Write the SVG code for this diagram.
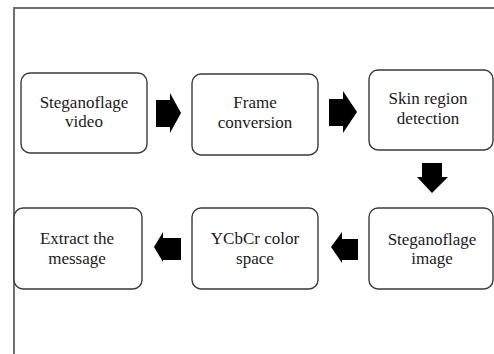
<svg xmlns="http://www.w3.org/2000/svg" width="494" height="354" viewBox="0 0 494 354">
<style>
.box{fill:#fff;stroke:#3a3a3a;stroke-width:1.4}
.t{font-family:"Liberation Serif","Times New Roman",serif;font-size:17px;fill:#1a1a1a;text-anchor:middle}
.arr{fill:#000}
.frame{fill:none;stroke:#707070;stroke-width:2}
</style>
<rect width="494" height="354" fill="#fff"/>
<path class="frame" d="M14,354 V8 H494"/>
<g id="n1"><rect class="box" x="21" y="73" width="126" height="80" rx="9"/><text class="t" x="84" y="108">Steganoflage</text><text class="t" x="84" y="127">video</text></g>
<g id="n2"><rect class="box" x="192" y="74" width="126" height="81" rx="9"/><text class="t" x="255" y="108">Frame</text><text class="t" x="255" y="128">conversion</text></g>
<g id="n3"><rect class="box" x="369" y="70" width="124" height="80" rx="9"/><text class="t" x="428" y="104">Skin region</text><text class="t" x="428" y="124">detection</text></g>
<g id="n4"><rect class="box" x="14" y="208" width="128" height="81" rx="9"/><text class="t" x="77" y="244">Extract the</text><text class="t" x="77" y="264">message</text></g>
<g id="n5"><rect class="box" x="192" y="208" width="126" height="81" rx="9"/><text class="t" x="255" y="244">YCbCr color</text><text class="t" x="255" y="264">space</text></g>
<g id="n6"><rect class="box" x="369" y="208" width="124" height="81" rx="9"/><text class="t" x="432" y="245">Steganoflage</text><text class="t" x="432" y="264">image</text></g>
<g id="connectors">
<polygon class="arr" points="156,100 170,100 170,93 181,113 170,133 170,127 156,127"/>
<polygon class="arr" points="329,99 343,99 343,91 357,112 343,133 343,126 329,126"/>
<polygon class="arr" points="422,163 442,163 442,177 448,177 432,193 417,177 422,177"/>
<polygon class="arr" points="181,238 163,238 163,232 154,247 163,262 163,260 181,260"/>
<polygon class="arr" points="358,239 342,239 342,232 331,247 342,263 342,260 358,260"/>
</g>
</svg>
